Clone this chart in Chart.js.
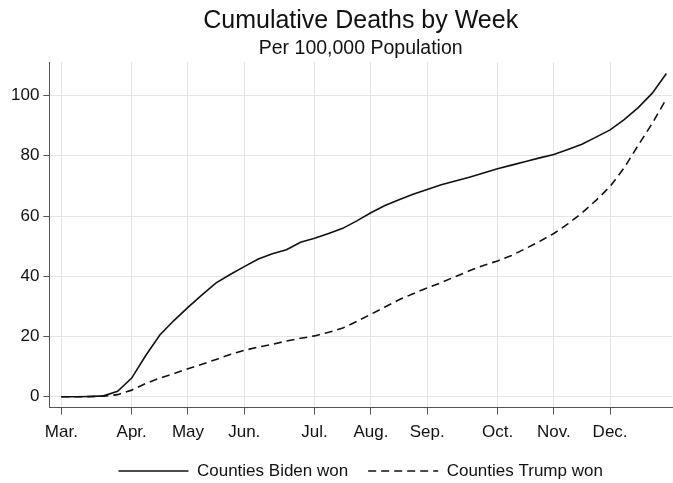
<!DOCTYPE html>
<html>
<head>
<meta charset="utf-8">
<script src="https://cdn.jsdelivr.net/npm/chart.js@4"></script>
<style>
  html, body { margin: 0; padding: 0; background: #fff; }
  #wrap { width: 673px; height: 483px; }
</style>
</head>
<body>
<div id="wrap"><canvas id="deaths"></canvas></div>
<script>
// weekly cumulative deaths per 100k, first week of March through end of December
const biden = [0, 0, 0.1, 0.3, 1.8, 6.2, 13.7, 20.5, 25.3, 29.7, 33.8, 37.8, 40.6, 43.2,
  45.7, 47.5, 48.8, 51.3, 52.6, 54.2, 55.9, 58.4, 61.1, 63.5, 65.4, 67.2, 68.8, 70.4,
  71.6, 72.9, 74.3, 75.7, 76.9, 78.1, 79.3, 80.4, 82.1, 83.8, 86.2, 88.6, 92, 96, 100.8, 107.3];
const trump = [0, 0, 0.05, 0.2, 0.7, 2.2, 4.4, 6.2, 7.7, 9.3, 10.8, 12.4, 14, 15.4,
  16.5, 17.4, 18.5, 19.4, 20.2, 21.4, 22.8, 25, 27.4, 29.8, 32.2, 34.2, 36.1, 37.9,
  39.9, 41.8, 43.6, 45.1, 46.9, 49.2, 51.6, 54.2, 57.4, 61, 65.2, 69.8, 76, 83.5, 90.8, 98.9];
const monthWeeks = [0, 5, 9, 13, 18, 22, 26, 31, 35, 39];
const monthLabels = ['Mar.', 'Apr.', 'May', 'Jun.', 'Jul.', 'Aug.', 'Sep.', 'Oct.', 'Nov.', 'Dec.'];
const yTicks = [0, 20, 40, 60, 80, 100];
const seriesNames = ['Counties Biden won', 'Counties Trump won'];

const toPoints = arr => arr.map((v, i) => ({x: i, y: v}));
const font = 'Liberation Sans, Arial, sans-serif';

new Chart(document.getElementById('deaths'), {
  type: 'line',
  data: {
    datasets: [{
      label: seriesNames[0],
      data: toPoints(biden),
      borderColor: '#111',
      borderWidth: 1.6,
      pointRadius: 0,
      tension: 0
    }, {
      label: seriesNames[1],
      data: toPoints(trump),
      borderColor: '#111',
      borderWidth: 1.6,
      borderDash: [8, 5],
      pointRadius: 0,
      tension: 0
    }]
  },
  options: {
    responsive: true,
    maintainAspectRatio: false,
    animation: false,
    // negative bottom lets the legend's own padding hang off the canvas
    layout: { padding: { left: 7, right: 1, top: 0, bottom: -6.5 } },
    plugins: {
      title: {
        display: true,
        text: 'Cumulative Deaths by Week',
        color: '#111',
        fullSize: false,
        font: { family: font, size: 25, weight: 'normal' },
        padding: { top: 6, bottom: 1 }
      },
      subtitle: {
        display: true,
        text: 'Per 100,000 Population',
        color: '#111',
        fullSize: false,
        font: { family: font, size: 19.5, weight: 'normal' },
        padding: { top: 0, bottom: 2 }
      },
      legend: {
        position: 'bottom',
        fullSize: false,
        labels: {
          usePointStyle: true,
          pointStyle: 'line',
          pointStyleWidth: 70,
          color: '#111',
          padding: 20,
          font: { family: font, size: 17 },
          // point-style legend items drop the dataset dash, so put it back
          generateLabels: chart => Chart.defaults.plugins.legend.labels.generateLabels(chart)
            .map((it, i) => Object.assign(it, { lineDash: chart.data.datasets[i].borderDash || [], lineWidth: 1.6 }))
        }
      },
      tooltip: { enabled: false }
    },
    scales: {
      x: {
        type: 'linear',
        min: -0.85,
        max: 43.4,
        afterBuildTicks: s => { s.ticks = monthWeeks.map(v => ({value: v})); },
        // let the month labels sit lower without pushing the axis up
        afterFit: s => { s.height -= 7.5; },
        ticks: {
          color: '#111',
          font: { family: font, size: 17 },
          padding: 7.5,
          maxRotation: 0,
          autoSkip: false,
          callback: v => monthLabels[monthWeeks.indexOf(v)]
        },
        grid: { color: '#e4e4e4', tickColor: '#555', tickLength: 7 },
        border: { color: '#555' }
      },
      y: {
        min: -3.6,
        max: 111,
        afterBuildTicks: s => { s.ticks = yTicks.map(v => ({value: v})); },
        ticks: {
          color: '#111',
          font: { family: font, size: 17 },
          padding: 4
        },
        grid: { color: '#e4e4e4', tickColor: '#555', tickLength: 6 },
        border: { color: '#555' }
      }
    }
  }
});
</script>
</body>
</html>
